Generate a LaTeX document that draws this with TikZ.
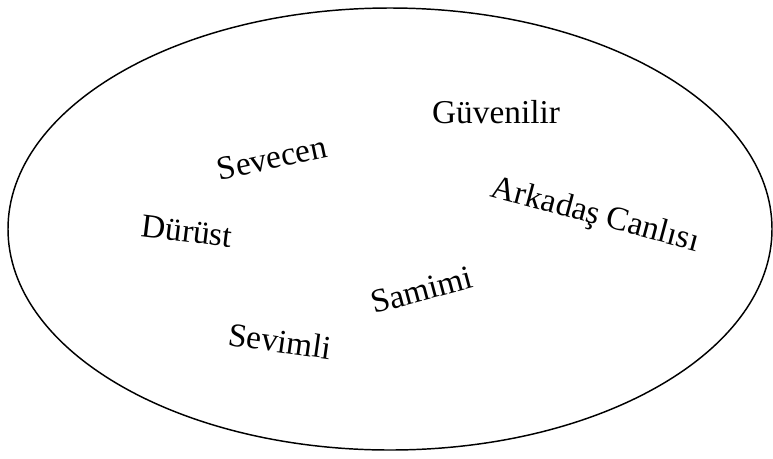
\documentclass[tikz,border=0pt]{standalone}
\usepackage{fontspec}
\setmainfont{Liberation Serif}
\usepackage{tikz}

\begin{document}
\begin{tikzpicture}[x=0.75pt, y=-0.75pt,
    trait/.style={font=\fontsize{25}{29}\selectfont, inner sep=0pt}]
    % sınırlar
    \useasboundingbox (0,0) rectangle (773,458);

    % dış elips
    \coordinate (C) at (390,229);
    \draw[line width=1.1pt] (C) ellipse [x radius=382, y radius=221];

    % özellikler
    \node[trait] (guvenilir) at (496,112) {Güvenilir};
    \node[trait, rotate=12] (sevecen) at (272,158) {Sevecen};
    \node[trait, rotate=-15] (arkadas) at (595,216) {Arkadaş Canlısı};
    \node[trait, rotate=-7] (durust) at (187,231) {Dürüst};
    \node[trait, rotate=15] (samimi) at (422,290) {Samimi};
    \node[trait, rotate=-8] (sevimli) at (280,341) {Sevimli};
  \end{tikzpicture}
\end{document}
